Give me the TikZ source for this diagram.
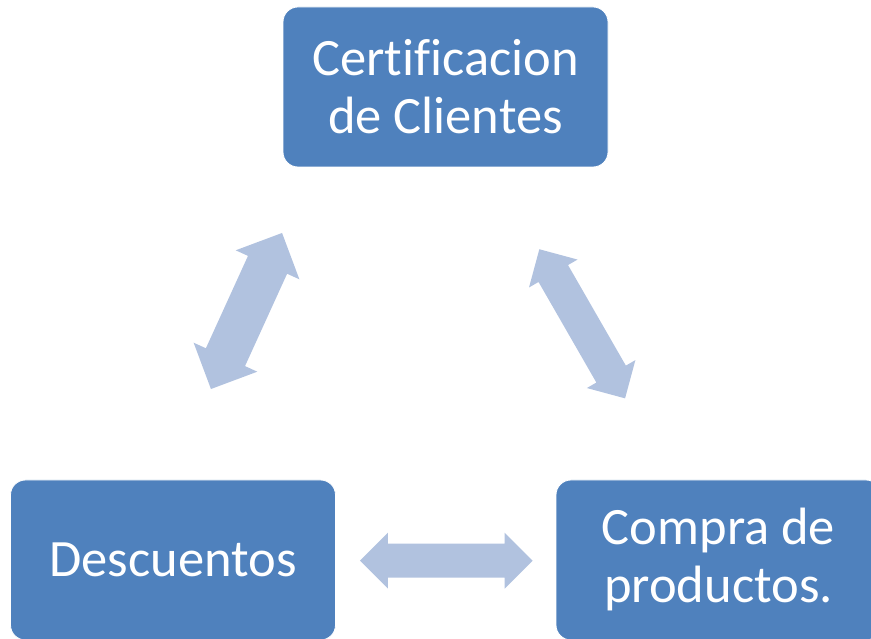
\documentclass[tikz,border=0pt]{standalone}
\usepackage{fontspec}
\setmainfont{Carlito}[Ligatures=NoCommon]
\definecolor{boxblue}{HTML}{4F81BD}
\definecolor{arrowblue}{HTML}{B1C2DF}
\tikzset{
  cyclebox/.style={fill=boxblue, draw=white, line width=0.8pt, rounded corners=15pt,
    minimum width=325pt, minimum height=160pt, inner sep=0pt, text=white,
    align=center, font=\fontsize{52.5}{58}\selectfont},
  arrowfill/.style={fill=arrowblue, draw=none}
}
% center x, center y, angle, length, head width, shaft width, head length
\newcommand\myDblArrow[7]{%
  \fill[arrowfill, shift={(#1,#2)}, rotate=#3]
    ({-#4/2},0) -- ({-#4/2+#7},{#5/2}) -- ({-#4/2+#7},{#6/2}) --
    ({#4/2-#7},{#6/2}) -- ({#4/2-#7},{#5/2}) -- ({#4/2},0) --
    ({#4/2-#7},{-#5/2}) -- ({#4/2-#7},{-#6/2}) --
    ({-#4/2+#7},{-#6/2}) -- ({-#4/2+#7},{-#5/2}) -- cycle;}
\begin{document}
\begin{tikzpicture}[x=1pt,y=1pt]
\useasboundingbox (0,0) rectangle (871,638);
\clip (0,0) rectangle (871,638);
\node[cyclebox] (cert) at (445.5,551) {Certificacion\\de Clientes};
\node[cyclebox] (desc) at (173,78) {Descuentos};
\node[cyclebox] (compra) at (718.5,78) {Compra de\\productos.};
\myDblArrow{246.5}{327}{65.5}{171.5}{70}{43}{35}
\myDblArrow{582.2}{314.2}{-60.1}{172}{56}{34}{28}
\myDblArrow{446.3}{77.3}{0}{172.7}{56}{34}{28}
\end{tikzpicture}
\end{document}
